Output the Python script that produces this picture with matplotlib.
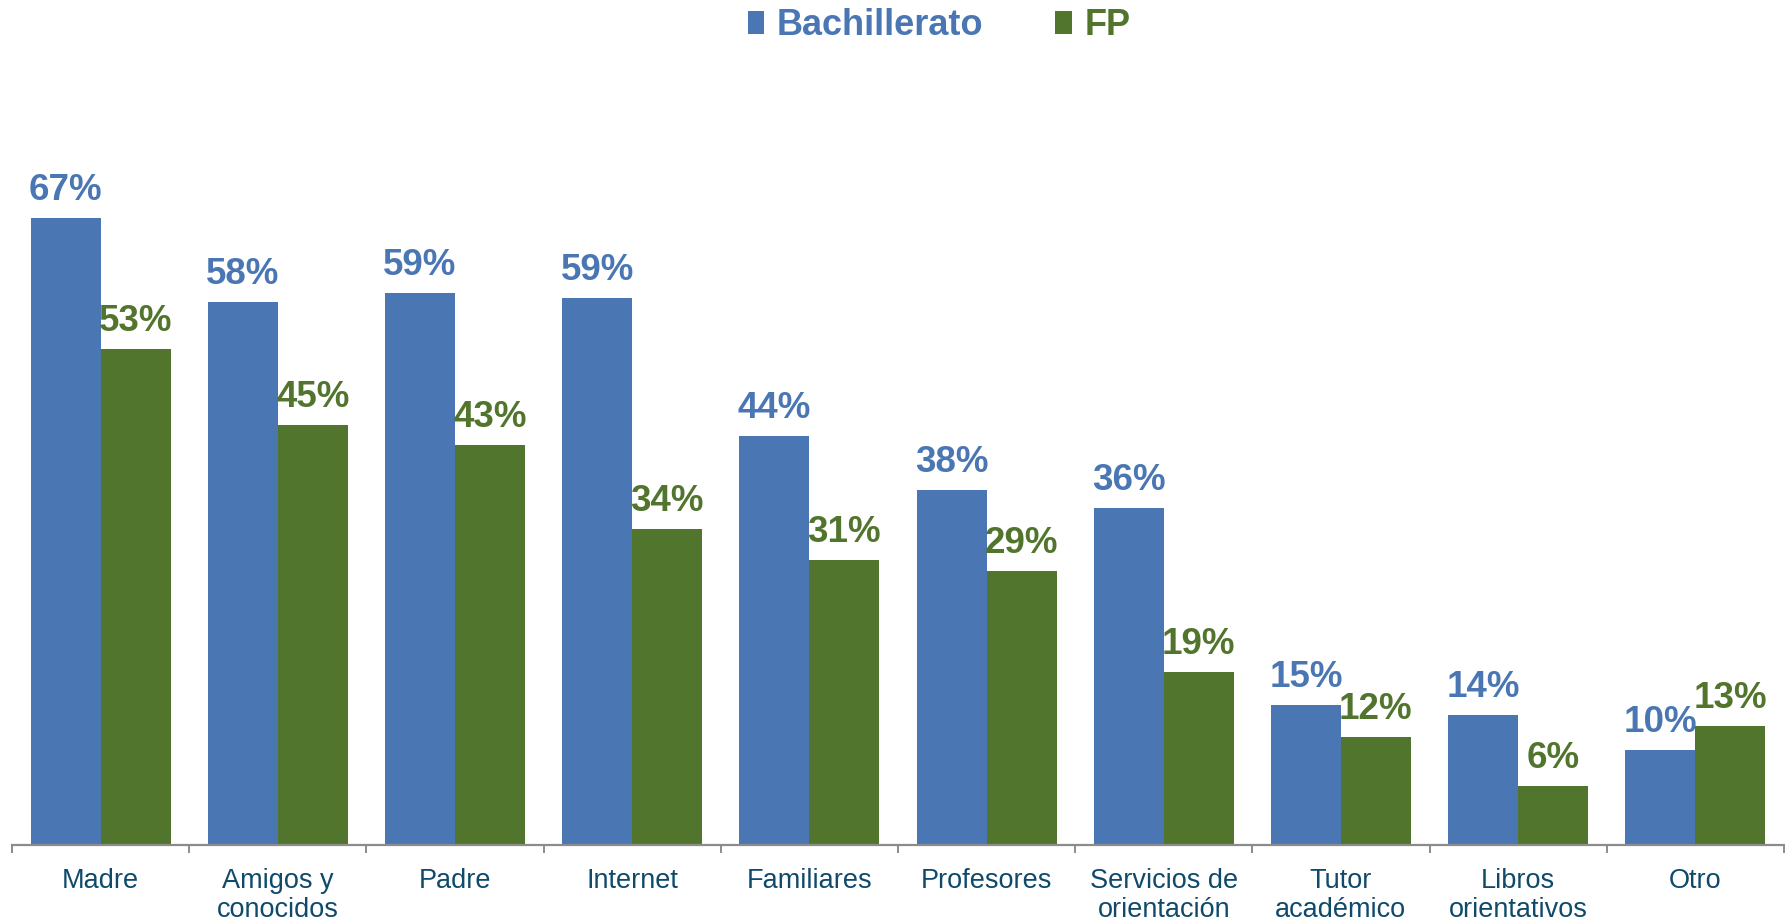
import matplotlib
matplotlib.use('Agg')
import numpy as np
import matplotlib.pyplot as plt
from matplotlib.patches import Patch

categories = ['Madre', 'Amigos y\nconocidos', 'Padre', 'Internet', 'Familiares', 'Profesores',
              'Servicios de\norientación', 'Tutor\nacadémico', 'Libros\norientativos', 'Otro']
bachillerato = [67.4, 58.4, 59.4, 58.8, 44.0, 38.2, 36.2, 15.0, 14.0, 10.2]
fp = [53.3, 45.2, 43.0, 34.0, 30.6, 29.4, 18.6, 11.6, 6.3, 12.8]
series_names = ['Bachillerato', 'FP']

BLUE = '#4A77B4'
GREEN = '#52752E'
TICK_COLOR = '#0F4A6B'
AXIS_GREY = '#8C8C8C'

plt.rcParams['font.family'] = ['Liberation Sans', 'DejaVu Sans']

fig = plt.figure(figsize=(17.85, 9.24), dpi=100)
ax = fig.add_axes([0.0067, 0.0858, 0.9927, 0.7544])

x = np.arange(len(categories))
w = 0.395
bars_b = ax.bar(x - w / 2, bachillerato, w, color=BLUE, linewidth=0)
bars_f = ax.bar(x + w / 2, fp, w, color=GREEN, linewidth=0)

for bars, vals, col in [(bars_b, bachillerato, BLUE), (bars_f, fp, GREEN)]:
    for b, v in zip(bars, vals):
        ax.annotate(f'{v:.0f}%', (b.get_x() + b.get_width() / 2, v),
                    xytext=(0, 13), textcoords='offset points',
                    ha='center', va='baseline', fontsize=26.5, fontweight='bold', color=col)

ax.set_xlim(-0.5, len(categories) - 0.5)
ax.set_ylim(0, 75)
ax.set_yticks([])
for s in ['top', 'right', 'left']:
    ax.spines[s].set_visible(False)
ax.spines['bottom'].set_color(AXIS_GREY)
ax.spines['bottom'].set_linewidth(1.6)

# ticks between groups, labels at group centres
ax.set_xticks(np.arange(len(categories) + 1) - 0.5)
ax.set_xticklabels([])
ax.tick_params(axis='x', which='major', length=6, width=1.4, color=AXIS_GREY)
ax.set_xticks(x, minor=True)
ax.set_xticklabels(categories, minor=True, fontsize=19.5, color=TICK_COLOR, linespacing=1.15)
ax.tick_params(axis='x', which='minor', length=0, pad=17)

handles = [Patch(facecolor=BLUE), Patch(facecolor=GREEN)]
leg = fig.legend(handles, series_names, loc='center', bbox_to_anchor=(0.526, 0.972), ncol=2,
                 frameon=False, prop={'size': 26, 'weight': 'bold'},
                 handlelength=0.45, handleheight=0.62, handletextpad=0.35, columnspacing=2.0)
for t, c in zip(leg.get_texts(), [BLUE, GREEN]):
    t.set_color(c)

plt.savefig('out.png', dpi=100)
